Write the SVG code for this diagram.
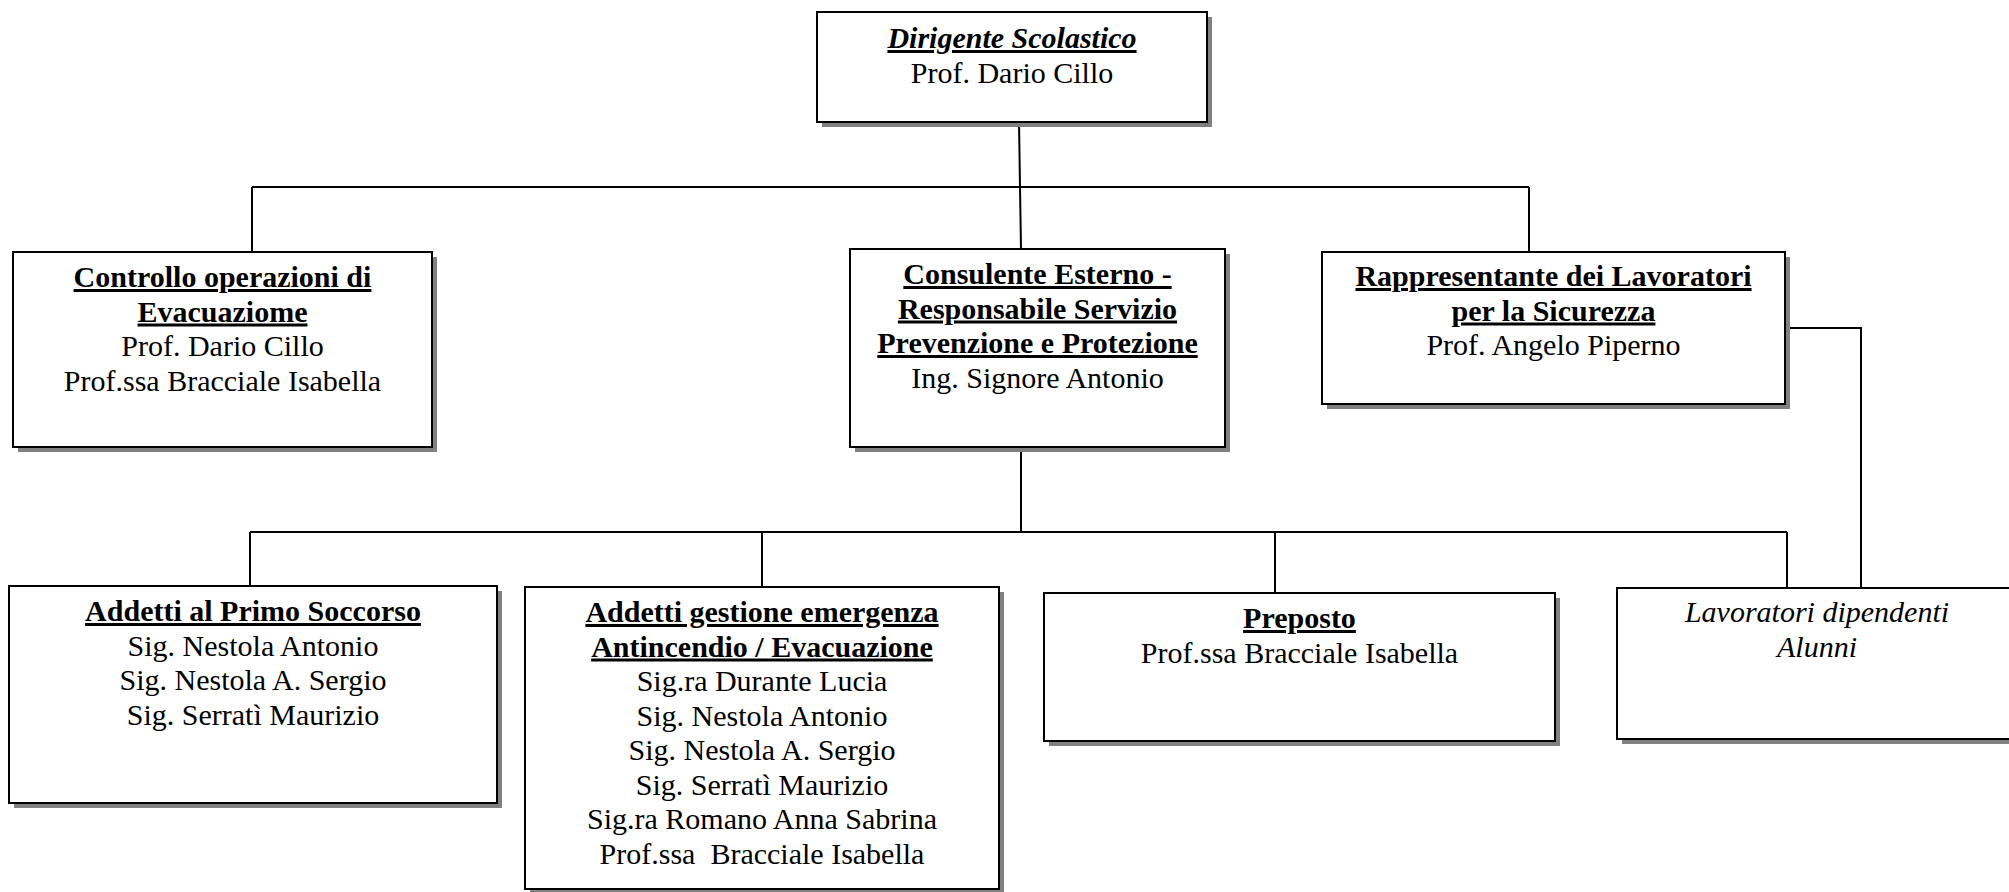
<svg xmlns="http://www.w3.org/2000/svg" width="2009" height="892" viewBox="0 0 2009 892">
<style>
.box{fill:#fff;stroke:#000;stroke-width:2}
.sh{fill:#808080}
.t{font-family:"Liberation Serif","Times New Roman",serif;font-size:30px;fill:#000;text-anchor:middle}
.b{font-weight:bold;text-decoration:underline}
.i{font-style:italic}
.c{fill:none;stroke:#000;stroke-width:2}
</style>
<rect width="2009" height="892" fill="#fff"/>
<g id="connectors">
<path class="c" d="M1019 122 L1020 187"/>
<path class="c" d="M252 187 L1529 187"/>
<path class="c" d="M252 187 L252 252"/>
<path class="c" d="M1020 187 L1021 249"/>
<path class="c" d="M1529 187 L1529 252"/>
<path class="c" d="M1021 447 L1021 532"/>
<path class="c" d="M250 532 L1787 532"/>
<path class="c" d="M250 532 L250 586"/>
<path class="c" d="M762 532 L762 587"/>
<path class="c" d="M1275 532 L1275 593"/>
<path class="c" d="M1787 532 L1787 588"/>
<path class="c" d="M1785 328 L1861 328 L1861 588"/>
</g>
<g id="dirigente">
<rect class="sh" x="822" y="17" width="390" height="110"/>
<rect class="box" x="817" y="12" width="390" height="110"/>
<text class="t b i" x="1012" y="48">Dirigente Scolastico</text>
<text class="t" x="1012" y="82.5">Prof. Dario Cillo</text>
</g>
<g id="controllo">
<rect class="sh" x="18" y="257" width="419" height="195"/>
<rect class="box" x="13" y="252" width="419" height="195"/>
<text class="t b" x="222.5" y="287">Controllo operazioni di</text>
<text class="t b" x="222.5" y="321.5">Evacuaziome</text>
<text class="t" x="222.5" y="356">Prof. Dario Cillo</text>
<text class="t" x="222.5" y="390.5">Prof.ssa Bracciale Isabella</text>
</g>
<g id="consulente">
<rect class="sh" x="855" y="254" width="375" height="198"/>
<rect class="box" x="850" y="249" width="375" height="198"/>
<text class="t b" x="1037.5" y="284">Consulente Esterno -</text>
<text class="t b" x="1037.5" y="318.5">Responsabile Servizio</text>
<text class="t b" x="1037.5" y="353">Prevenzione e Protezione</text>
<text class="t" x="1037.5" y="387.5">Ing. Signore Antonio</text>
</g>
<g id="rappresentante">
<rect class="sh" x="1327" y="257" width="463" height="152"/>
<rect class="box" x="1322" y="252" width="463" height="152"/>
<text class="t b" x="1553.5" y="286">Rappresentante dei Lavoratori</text>
<text class="t b" x="1553.5" y="320.5">per la Sicurezza</text>
<text class="t" x="1553.5" y="355">Prof. Angelo Piperno</text>
</g>
<g id="primo-soccorso">
<rect class="sh" x="14" y="591" width="488" height="217"/>
<rect class="box" x="9" y="586" width="488" height="217"/>
<text class="t b" x="253" y="621">Addetti al Primo Soccorso</text>
<text class="t" x="253" y="655.5">Sig. Nestola Antonio</text>
<text class="t" x="253" y="690">Sig. Nestola A. Sergio</text>
<text class="t" x="253" y="724.5">Sig. Serratì Maurizio</text>
</g>
<g id="antincendio">
<rect class="sh" x="530" y="592" width="474" height="302"/>
<rect class="box" x="525" y="587" width="474" height="302"/>
<text class="t b" x="762" y="622">Addetti gestione emergenza</text>
<text class="t b" x="762" y="656.5">Antincendio / Evacuazione</text>
<text class="t" x="762" y="691">Sig.ra Durante Lucia</text>
<text class="t" x="762" y="725.5">Sig. Nestola Antonio</text>
<text class="t" x="762" y="760">Sig. Nestola A. Sergio</text>
<text class="t" x="762" y="794.5">Sig. Serratì Maurizio</text>
<text class="t" x="762" y="829">Sig.ra Romano Anna Sabrina</text>
<text class="t" x="762" y="863.5" xml:space="preserve">Prof.ssa  Bracciale Isabella</text>
</g>
<g id="preposto">
<rect class="sh" x="1049" y="598" width="511" height="148"/>
<rect class="box" x="1044" y="593" width="511" height="148"/>
<text class="t b" x="1299.5" y="628">Preposto</text>
<text class="t" x="1299.5" y="662.5">Prof.ssa Bracciale Isabella</text>
</g>
<g id="lavoratori">
<rect class="sh" x="1622" y="593" width="400" height="151"/>
<rect class="box" x="1617" y="588" width="400" height="151"/>
<text class="t i" x="1817" y="622">Lavoratori dipendenti</text>
<text class="t i" x="1817" y="656.5">Alunni</text>
</g>
</svg>
